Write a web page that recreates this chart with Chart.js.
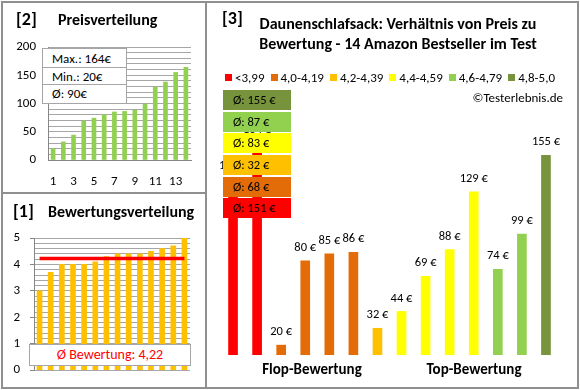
<!DOCTYPE html>
<html><head><meta charset="utf-8">
<script src="https://cdn.jsdelivr.net/npm/chart.js@4.4.1/dist/chart.umd.min.js"></script>
<style>
html,body{margin:0;padding:0;background:#fff;}
body{width:580px;height:390px;position:relative;overflow:hidden;font-family:Carlito,Lato,"Open Sans",sans-serif;color:#000;}
.abs{position:absolute;}
canvas{position:absolute;}
.frame{position:absolute;border:2px solid #8f8f8f;box-sizing:border-box;}
.t{position:absolute;white-space:nowrap;font-weight:bold;}
.box{position:absolute;box-sizing:border-box;font-size:12.5px;line-height:20px;padding-left:10px;white-space:nowrap;}
</style></head><body>
<div class="frame" style="left:1px;top:1px;width:206px;height:193px;"></div>
<div class="frame" style="left:1px;top:192px;width:206px;height:197px;"></div>
<div class="frame" style="left:205px;top:1px;width:374px;height:388px;"></div>

<canvas id="c2" width="205" height="192" style="left:0;top:0;width:205px;height:192px;"></canvas>
<canvas id="c1" width="205" height="196" style="left:0;top:192px;width:205px;height:196px;"></canvas>
<canvas id="c3" width="372" height="388" style="left:206px;top:0;width:372px;height:388px;"></canvas>

<div class="t" style="left:16px;top:8px;font-size:18px;">[2]</div>
<div class="t" style="left:58px;top:10px;font-size:16px;">Preisverteilung</div>
<div class="t" style="left:13px;top:200px;font-size:18px;">[1]</div>
<div class="t" style="left:48px;top:202px;font-size:16px;">Bewertungsverteilung</div>
<div class="t" style="left:222px;top:7px;font-size:18px;">[3]</div>
<div class="t" style="left:240px;width:316px;top:14px;font-size:16px;text-align:center;line-height:20px;">Daunenschlafsack: Verhältnis von Preis zu<br>Bewertung - 14 Amazon Bestseller im Test</div>

<div id="stats" class="abs" style="left:42px;top:48px;width:85px;height:56px;border:1px solid #a6a6a6;background:#fff;box-sizing:border-box;font-size:13px;"></div>
<div id="avgbox" class="abs" style="left:29px;top:344px;width:162px;height:22px;border:1px solid #a6a6a6;background:#fff;box-sizing:border-box;font-size:14px;color:#ff0000;text-align:center;line-height:20px;"></div>

<div id="legend" class="abs" style="left:225px;top:69px;height:16px;font-size:13px;display:flex;align-items:center;white-space:nowrap;"></div>
<div class="abs" style="right:17px;top:90px;font-size:13px;">©Testerlebnis.de</div>
<div id="boxes"></div>
<div class="t" style="left:252px;width:120px;top:360px;font-size:15px;text-align:center;">Flop-Bewertung</div>
<div class="t" style="left:414px;width:120px;top:360px;font-size:15px;text-align:center;">Top-Bewertung</div>

<script>
// ---- data ----
const priceRank = ['1','2','3','4','5','6','7','8','9','10','11','12','13','14'];
const priceSorted = [20,32,44,69,74,80,85,86,88,99,129,138,155,164];
const priceStatLabels = ['Max.: 164€','Min.: 20€','Ø: 90€'];
const ratingSorted = [3.0,3.7,4.0,4.0,4.0,4.1,4.3,4.4,4.4,4.4,4.5,4.6,4.7,5.0];
const ratingAvg = 4.22;
const ratingAvgLabel = 'Ø Bewertung: 4,22';
const productPrices = [138,164,20,80,85,86,32,44,69,88,129,74,99,155];
const productClass = [0,0,1,1,1,1,2,3,3,3,3,4,4,5];
const classLabels = ['<3,99','4,0-4,19','4,2-4,39','4,4-4,59','4,6-4,79','4,8-5,0'];
const classColors = ['#ff0000','#e36c09','#ffc000','#ffff00','#92d050','#77933c'];
const classAvgPrice = [151,68,32,83,87,155];

const FONT = 'Carlito, Lato, "Open Sans", sans-serif';
Chart.defaults.font.family = FONT;
Chart.defaults.color = '#000';
Chart.defaults.animation = false;

// stats box
const st = document.getElementById('stats');
priceStatLabels.forEach((s,i)=>{
  const d = document.createElement('div');
  d.textContent = s;
  d.style.cssText = 'height:'+(i===0?19:17)+'px;line-height:'+(i===0?19:17)+'px;padding-left:9px;box-sizing:border-box;'+(i<2?'border-bottom:1px solid #a6a6a6;':'');
  st.appendChild(d);
});
document.getElementById('avgbox').textContent = ratingAvgLabel;

// legend
const lg = document.getElementById('legend');
classLabels.forEach((l,i)=>{
  const sq = document.createElement('span');
  sq.style.cssText = 'display:inline-block;width:7px;height:7px;background:'+classColors[i]+';margin-right:3px;';
  const tx = document.createElement('span');
  tx.textContent = l;
  tx.style.marginRight = i<classLabels.length-1 ? '6px' : '0';
  lg.appendChild(sq); lg.appendChild(tx);
});

// average boxes
const bx = document.getElementById('boxes');
const order = [5,4,3,2,1,0];
const tops = [90,112,133,155,177,198];
order.forEach((ci,k)=>{
  const d = document.createElement('div');
  d.className = 'box';
  d.style.left='223px'; d.style.top=tops[k]+'px'; d.style.width='68px'; d.style.height='20px';
  d.style.background = classColors[ci];
  d.textContent = 'Ø: ' + classAvgPrice[ci] + ' €';
  bx.appendChild(d);
});

// ---- chart [2] Preisverteilung ----
new Chart(document.getElementById('c2'), {
  type:'bar',
  data:{labels:priceRank, datasets:[{data:priceSorted, backgroundColor:'#92d050', barThickness:4}]},
  options:{
    responsive:false, maintainAspectRatio:false,
    layout:{padding:{left:0,top:47,right:14,bottom:0}},
    plugins:{legend:{display:false},tooltip:{enabled:false}},
    scales:{
      x:{afterFit:s=>{s.height=32;}, grid:{display:false}, border:{color:'#868686'},
         ticks:{autoSkip:false,maxRotation:0,padding:6,font:{size:13},
           callback:function(v,i){return i%2===0?this.getLabelForValue(v):'';}}},
      y:{min:0,max:200,afterFit:s=>{s.width=48;},
         border:{color:'#868686'},
         grid:{color:'#a6a6a6',drawTicks:false},
         ticks:{stepSize:10,padding:12,font:{size:13},autoSkip:false,
           callback:v=>v%50===0?v:''}}
    }
  }
});

// ---- chart [1] Bewertungsverteilung ----
new Chart(document.getElementById('c1'), {
  type:'bar',
  data:{labels:priceRank, datasets:[
    {type:'line', data:ratingSorted.map(()=>ratingAvg), borderColor:'#ff0000', borderWidth:3.5, pointRadius:0, order:0},
    {data:ratingSorted, backgroundColor:'#ffc000', barThickness:5, order:1}
  ]},
  options:{
    responsive:false, maintainAspectRatio:false,
    layout:{padding:{left:0,top:46,right:15,bottom:16}},
    plugins:{legend:{display:false},tooltip:{enabled:false}},
    scales:{
      x:{display:false},
      y:{min:0,max:5,afterFit:s=>{s.width=34;},
         border:{color:'#868686'},
         grid:{color:'#a6a6a6',tickLength:4,
           tickColor:c=>Math.abs(c.tick.value-Math.round(c.tick.value))<1e-6?'#868686':'rgba(0,0,0,0)'},
         ticks:{stepSize:0.2,padding:10,font:{size:13},autoSkip:false,
           callback:v=>Math.abs(v-Math.round(v))<1e-6?Math.round(v):''}}
    }
  }
});

// ---- chart [3] ----
const valueLabels = {
  id:'valueLabels',
  afterDatasetsDraw(chart){
    const ctx = chart.ctx; const meta = chart.getDatasetMeta(0);
    ctx.save(); ctx.font = '12.5px '+FONT; ctx.fillStyle='#000'; ctx.textAlign='center'; ctx.textBaseline='middle';
    meta.data.forEach((b,i)=>{ ctx.fillText(productPrices[i]+' €', b.x, b.y-13); });
    ctx.restore();
  }
};
new Chart(document.getElementById('c3'), {
  type:'bar',
  data:{labels:productPrices.map((_,i)=>String(i+1)), datasets:[{data:productPrices,
    backgroundColor:productClass.map(c=>classColors[c]), barThickness:9}]},
  options:{
    responsive:false, maintainAspectRatio:false,
    layout:{padding:{left:15,top:92,right:20,bottom:33}},
    plugins:{legend:{display:false},tooltip:{enabled:false}},
    scales:{x:{display:false}, y:{display:false,min:13,max:200}}
  },
  plugins:[valueLabels]
});
</script>
</body></html>
